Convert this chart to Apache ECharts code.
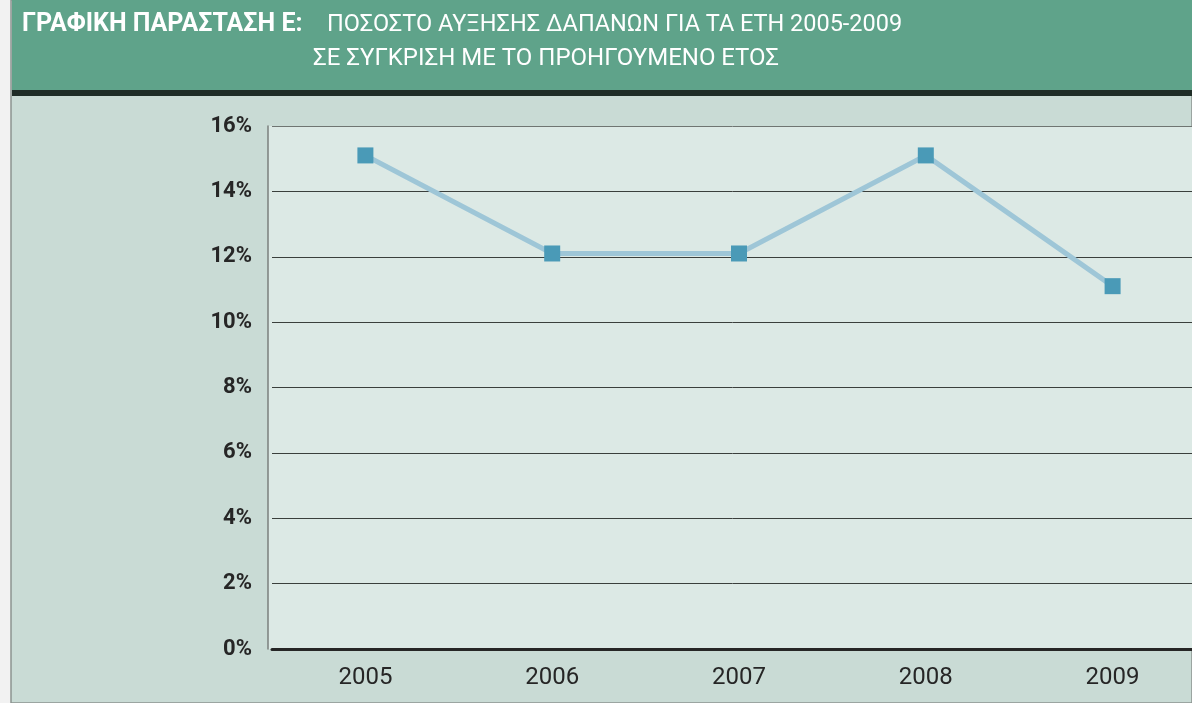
<!DOCTYPE html>
<html>
<head>
<meta charset="utf-8">
<script src="https://cdn.jsdelivr.net/npm/echarts@6/dist/echarts.min.js"></script>
<style>
  html, body { margin: 0; padding: 0; background: #f2f2f2; }
  #chart { width: 1192px; height: 703px; }
</style>
</head>
<body>
<div id="chart"></div>
<script>
// data
const years = ["2005", "2006", "2007", "2008", "2009"];
const growth = [15.1, 12.1, 12.1, 15.1, 11.1];
const yTicks = [0, 2, 4, 6, 8, 10, 12, 14, 16];

const FONT = "Roboto, 'DejaVu Sans Condensed', sans-serif";

const chart = echarts.init(document.getElementById("chart"));

// gridline colours, bottom to top (top one is the lighter frame line)
const splitColors = yTicks.map((v, i) => (i === yTicks.length - 1 ? "#6f7572" : "#3a3f3c"));

const option = {
  backgroundColor: "#f2f2f2",
  animation: false,
  graphic: [
    // page panel + left border
    { type: "rect", z: -10, shape: { x: 11, y: 0, width: 1181, height: 703 },
      style: { fill: "#c9dbd5", stroke: "#8c9490", lineWidth: 1.5 } },
    // header band
    { type: "rect", z: -9, shape: { x: 12, y: 0, width: 1180, height: 90 },
      style: { fill: "#5fa38a" } },
    { type: "rect", z: -9, shape: { x: 12, y: 90, width: 1180, height: 6 },
      style: { fill: "#1f2d27" } },
    // plot background
    { type: "rect", z: -8, shape: { x: 268, y: 126, width: 924, height: 523 },
      style: { fill: "#dce9e5" } },
  ],
  title: [
    {
      left: 17,
      top: 7,
      text: "ΓΡΑΦΙΚΗ ΠΑΡΑΣΤΑΣΗ Ε:",
      textStyle: { color: "#ffffff", fontFamily: FONT, fontSize: 25, fontWeight: "bold" },
    },
    {
      left: 322,
      top: 8,
      text: "ΠΟΣΟΣΤΟ ΑΥΞΗΣΗΣ ΔΑΠΑΝΩΝ ΓΙΑ ΤΑ ΕΤΗ 2005-2009",
      textStyle: { color: "#ffffff", fontFamily: FONT, fontSize: 23.5, fontWeight: "normal" },
    },
    {
      left: 308,
      top: 42,
      text: "ΣΕ ΣΥΓΚΡΙΣΗ ΜΕ ΤΟ ΠΡΟΗΓΟΥΜΕΝΟ ΕΤΟΣ",
      textStyle: { color: "#ffffff", fontFamily: FONT, fontSize: 24, fontWeight: "normal" },
    },
  ],
  grid: {
    left: 272,
    top: 126,
    width: 934,
    height: 523,
    outerBoundsMode: "none",
  },
  xAxis: {
    type: "category",
    data: years,
    boundaryGap: true,
    axisLine: { show: true, lineStyle: { color: "#262626", width: 3 } },
    axisTick: { show: false },
    axisLabel: {
      color: "#262626",
      fontFamily: FONT,
      fontSize: 24,
      margin: 17,
    },
  },
  yAxis: {
    type: "value",
    min: 0,
    max: 16,
    interval: 2,
    offset: 4,
    axisLine: { show: true, onZero: false, lineStyle: { color: "#7a7f7c", width: 1.5 } },
    axisTick: { show: false },
    splitLine: { show: true, lineStyle: { color: splitColors, width: 1 } },
    axisLabel: {
      color: "#262626",
      fontFamily: FONT,
      fontSize: 22,
      fontWeight: "bold",
      margin: 16,
      formatter: (v) => (yTicks.includes(v) ? v + "%" : ""),
    },
  },
  series: [
    {
      type: "line",
      data: growth,
      symbol: "rect",
      symbolSize: 16,
      lineStyle: { color: "#9ec6d7", width: 5 },
      itemStyle: { color: "#4a9ab7" },
      z: 5,
    },
  ],
};

chart.setOption(option);
window.onresize = function () {
  chart.resize();
};
</script>
</body>
</html>
